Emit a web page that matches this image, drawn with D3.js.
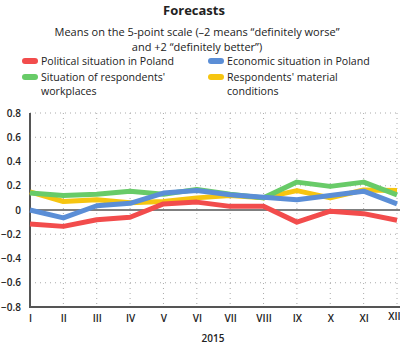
<!DOCTYPE html>
<html>
<head>
<meta charset="utf-8">
<script src="https://cdn.jsdelivr.net/npm/d3@7"></script>
<style>
  body { margin: 0; background: #fff; }
  svg text { font-family: "Open Sans", sans-serif; fill: #222; }
</style>
</head>
<body>
<div class="svg-container"></div>
<script>
// data
const months = ['I', 'II', 'III', 'IV', 'V', 'VI', 'VII', 'VIII', 'IX', 'X', 'XI', 'XII']
const political = [-0.115, -0.135, -0.08, -0.06, 0.05, 0.065, 0.03, 0.03, -0.10, -0.01, -0.03, -0.085]
const economic = [0.0, -0.065, 0.035, 0.055, 0.14, 0.16, 0.125, 0.105, 0.085, 0.12, 0.155, 0.05]
const workplaces = [0.14, 0.12, 0.13, 0.155, 0.13, 0.17, 0.13, 0.10, 0.23, 0.195, 0.23, 0.125]
const material = [0.15, 0.07, 0.085, 0.06, 0.07, 0.10, 0.12, 0.10, 0.16, 0.10, 0.165, 0.16]
const yTicks = [-0.8, -0.6, -0.4, -0.2, 0, 0.2, 0.4, 0.6, 0.8]

const seriesNames = ['Political situation in Poland', 'Economic situation in Poland',
  'Situation of respondents\' workplaces', 'Respondents\' material conditions']
const seriesColors = ['#f24c4c', '#5b8ed6', '#68cb68', '#f6c510']
const seriesValues = [political, economic, workplaces, material]

const width = 400
const height = 353
const margin = { top: 113, right: 3, bottom: 46, left: 30 }

const svg = d3.select('.svg-container').append('svg')
  .attr('width', width)
  .attr('height', height)

const x = d3.scalePoint()
  .domain(months)
  .range([margin.left, width - margin.right])

const y = d3.scaleLinear()
  .domain([-0.8, 0.8])
  .range([height - margin.bottom, margin.top])

// titles
svg.append('text')
  .attr('x', 194).attr('y', 15)
  .attr('text-anchor', 'middle')
  .style('font-size', '13px').style('font-weight', 'bold')
  .text('Forecasts')

svg.append('text')
  .attr('x', 197).attr('y', 36)
  .attr('text-anchor', 'middle')
  .style('font-size', '11px').style('font-weight', 500)
  .text('Means on the 5-point scale (\u20132 means \u201cdefinitely worse\u201d')

svg.append('text')
  .attr('x', 197).attr('y', 51)
  .attr('text-anchor', 'middle')
  .style('font-size', '11px').style('font-weight', 500)
  .text('and +2 \u201cdefinitely better\u201d)')

// legend
const legendPos = [[22, 65], [208, 65], [22, 81], [208, 81]]
seriesNames.forEach((name, i) => {
  const g = svg.append('g').attr('transform', `translate(${legendPos[i][0]},${legendPos[i][1]})`)
  g.append('rect')
    .attr('x', 0).attr('y', -7)
    .attr('width', 16).attr('height', 6)
    .attr('rx', 3)
    .style('fill', seriesColors[i])
  const lines = i === 2 ? ['Situation of respondents\'', 'workplaces']
    : i === 3 ? ['Respondents\' material', 'conditions'] : [name]
  lines.forEach((t, j) => {
    g.append('text')
      .attr('x', 19).attr('y', j * 14)
      .style('font-size', '10.6px').style('font-weight', 500)
      .text(t)
  })
})

// grid
svg.append('g').selectAll('line')
  .data(yTicks.filter(d => d !== 0 && d !== -0.8))
  .enter().append('line')
  .attr('x1', margin.left).attr('x2', width)
  .attr('y1', d => y(d)).attr('y2', d => y(d))
  .style('stroke', '#aaa')
  .style('stroke-dasharray', '1,4')

svg.append('g').selectAll('line')
  .data(months.slice(1))
  .enter().append('line')
  .attr('x1', d => x(d)).attr('x2', d => x(d))
  .attr('y1', y(0.8)).attr('y2', y(-0.8))
  .style('stroke', '#aaa')
  .style('stroke-dasharray', '1,4')

// zero line
svg.append('line')
  .attr('x1', margin.left).attr('x2', width)
  .attr('y1', y(0)).attr('y2', y(0))
  .style('stroke', '#555').style('stroke-width', 1.5)

// axes
const axeY = d3.axisLeft(y).tickValues(yTicks).tickSize(0).tickPadding(9)
  .tickFormat(d => d === 0 ? '0' : d3.format('.1f')(d))
const axeX = d3.axisBottom(x).tickSize(0).tickPadding(8)

const groupY = svg.append('g').attr('transform', `translate(${margin.left},0)`).call(axeY)
const groupX = svg.append('g').attr('transform', `translate(0,${y(-0.8)})`).call(axeX)

groupY.select('.domain').remove()
groupX.select('.domain').remove()
svg.selectAll('.tick text')
  .style('font-size', '10px').style('font-weight', '600')
  .style('font-family', '"Open Sans", sans-serif').attr('fill', '#222')

// last month label sits against the right edge
groupX.selectAll('.tick text')
  .filter(d => d === 'XII')
  .attr('text-anchor', 'end')
  .attr('dx', 3)
  .attr('dy', '0.5em')

svg.append('line')
  .attr('x1', margin.left).attr('x2', margin.left)
  .attr('y1', y(0.8)).attr('y2', y(-0.8) + 1)
  .style('stroke', '#555').style('stroke-width', 2)
svg.append('line')
  .attr('x1', margin.left).attr('x2', width)
  .attr('y1', y(-0.8)).attr('y2', y(-0.8))
  .style('stroke', '#555').style('stroke-width', 2)

svg.append('text')
  .attr('x', 213).attr('y', 342)
  .attr('text-anchor', 'middle')
  .style('font-size', '10px').style('font-weight', '600')
  .text('2015')

// lines, drawn back to front
const line = d3.line()
  .x((d, i) => x(months[i]))
  .y(d => y(d))

;[3, 2, 1, 0].forEach(i => {
  svg.append('path')
    .datum(seriesValues[i])
    .attr('d', line)
    .style('fill', 'none')
    .style('stroke', seriesColors[i])
    .style('stroke-width', 5)
    .style('stroke-linejoin', 'round')
})
</script>
</body>
</html>
